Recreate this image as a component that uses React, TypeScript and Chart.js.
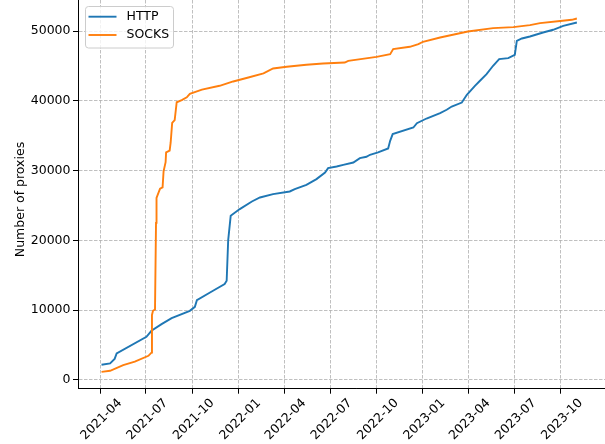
import React, { useEffect, useRef } from 'react';
import { Chart, registerables } from 'chart.js';
Chart.register(...registerables);

const seriesLabels = ['HTTP', 'SOCKS'];
const seriesColors = ['#1f77b4', '#ff7f0e'];
const yAxisTitle = 'Number of proxies';

const httpDates = [
  '2021-04-04', '2021-04-21', '2021-04-30', '2021-05-04', '2021-07-02', '2021-07-12', '2021-08-01',
  '2021-08-21', '2021-09-26', '2021-10-06', '2021-10-10', '2021-11-11', '2021-12-04', '2021-12-08',
  '2021-12-11', '2021-12-16', '2022-01-03', '2022-01-27', '2022-02-12', '2022-03-10', '2022-04-12',
  '2022-04-22', '2022-05-15', '2022-06-04', '2022-06-21', '2022-06-27', '2022-07-14', '2022-07-27',
  '2022-08-16', '2022-08-29', '2022-09-11', '2022-09-18', '2022-10-04', '2022-10-24', '2022-10-28',
  '2022-11-02', '2022-12-13', '2022-12-20', '2023-01-08', '2023-02-04', '2023-02-17', '2023-02-27',
  '2023-03-19', '2023-03-29', '2023-04-14', '2023-04-24', '2023-05-07', '2023-05-20', '2023-06-01',
  '2023-06-19', '2023-07-02', '2023-07-06', '2023-07-16', '2023-08-01', '2023-08-27', '2023-09-16',
  '2023-10-06', '2023-11-02',
];
const httpValues = [
  2160, 2350, 3000, 3780, 6170, 7030, 7990,
  8850, 9900, 10470, 11430, 12770, 13730, 14200,
  20000, 23520, 24480, 25570, 26150, 26630, 27010,
  27350, 27960, 28780, 29730, 30360, 30590, 30830,
  31160, 31790, 31980, 32270, 32600, 33170, 34270,
  35230, 36180, 36800, 37470, 38240, 38720, 39190,
  39760, 40870, 42160, 42880, 43840, 45030, 45990,
  46130, 46600, 48610, 48940, 49230, 49800, 50190,
  50760, 51230,
];

const socksDates = [
  '2021-04-04', '2021-04-21', '2021-05-17', '2021-06-09', '2021-07-06', '2021-07-12', '2021-07-13',
  '2021-07-15', '2021-07-19', '2021-07-21', '2021-07-22', '2021-07-29', '2021-08-03', '2021-08-05',
  '2021-08-09', '2021-08-10', '2021-08-17', '2021-08-19', '2021-08-22', '2021-08-27', '2021-08-31',
  '2021-09-10', '2021-09-20', '2021-09-26', '2021-10-20', '2021-11-24', '2021-12-21', '2022-01-20',
  '2022-02-19', '2022-03-10', '2022-04-06', '2022-05-15', '2022-06-17', '2022-07-30', '2022-08-06',
  '2022-10-01', '2022-10-28', '2022-11-03', '2022-12-06', '2022-12-23', '2023-01-01', '2023-02-04',
  '2023-03-31', '2023-05-20', '2023-06-29', '2023-08-01', '2023-08-21', '2023-09-30', '2023-10-23',
  '2023-11-02',
];
const socksValues = [
  1150, 1300, 2100, 2600, 3450, 3900, 9300,
  9900, 10100, 22500, 26100, 27400, 27600, 29900,
  31200, 32600, 32850, 34000, 36850, 37250, 39800,
  40100, 40500, 41000, 41600, 42160, 42780, 43350,
  43930, 44640, 44880, 45170, 45350, 45500, 45740,
  46310, 46700, 47420, 47750, 48130, 48470, 49080,
  49940, 50430, 50570, 50860, 51150, 51440, 51620,
  51810,
];

const xTickDates = [
  '2021-04-01', '2021-07-01', '2021-10-01', '2022-01-01', '2022-04-01', '2022-07-01',
  '2022-10-01', '2023-01-01', '2023-04-01', '2023-07-01', '2023-10-01',
];
const xTickLabels = [
  '2021-04', '2021-07', '2021-10', '2022-01', '2022-04', '2022-07',
  '2022-10', '2023-01', '2023-04', '2023-07', '2023-10',
];
const yTickValues = [0, 10000, 20000, 30000, 40000, 50000];

const ORIGIN = Date.UTC(2021, 3, 1);
const toDay = (s: string) => {
  const [y, m, d] = s.split('-').map(Number);
  return (Date.UTC(y, m - 1, d) - ORIGIN) / 86400000;
};

const W = 645;
const H = 474;
const OFF_Y = 30;
const FONT = '"DejaVu Sans", sans-serif';
const FS = 12.5;

const decorPlugin = {
  id: 'mplDecor',
  afterDraw(chart: any) {
    const ctx = chart.ctx;
    ctx.save();
    // y axis title
    ctx.translate(21, 199.5 + OFF_Y);
    ctx.rotate(-Math.PI / 2);
    ctx.font = `${FS}px ${FONT}`;
    ctx.fillStyle = '#000';
    ctx.textAlign = 'center';
    ctx.textBaseline = 'middle';
    ctx.fillText(yAxisTitle, 0, 0);
    ctx.restore();

    // legend
    ctx.save();
    const bx = 85.5, by = 6.5 + OFF_Y, bw = 88, bh = 41.5;
    ctx.beginPath();
    ctx.roundRect(bx, by, bw, bh, 3);
    ctx.fillStyle = 'rgba(255,255,255,0.8)';
    ctx.fill();
    ctx.strokeStyle = '#cccccc';
    ctx.lineWidth = 1;
    ctx.stroke();
    const rows = [16.7, 35];
    chart.data.datasets.forEach((ds: any, i: number) => {
      const y = rows[i] + OFF_Y;
      ctx.beginPath();
      ctx.moveTo(88.5, y);
      ctx.lineTo(116.5, y);
      ctx.strokeStyle = ds.borderColor;
      ctx.lineWidth = 1.9;
      ctx.stroke();
      ctx.font = `${FS}px ${FONT}`;
      ctx.fillStyle = '#000';
      ctx.textAlign = 'left';
      ctx.textBaseline = 'middle';
      ctx.fillText(ds.label, 126.5, y);
    });
    ctx.restore();
  },
};

export default function App() {
  const ref = useRef<HTMLCanvasElement | null>(null);
  useEffect(() => {
    if (!ref.current) return;
    const chart = new Chart(ref.current, {
      type: 'line',
      data: {
        datasets: [
          {
            label: seriesLabels[0],
            data: httpDates.map((d, i) => ({ x: toDay(d), y: httpValues[i] })),
            borderColor: seriesColors[0],
            backgroundColor: seriesColors[0],
            borderWidth: 1.9,
            pointRadius: 0,
            tension: 0,
            fill: false,
            order: 1,
          },
          {
            label: seriesLabels[1],
            data: socksDates.map((d, i) => ({ x: toDay(d), y: socksValues[i] })),
            borderColor: seriesColors[1],
            backgroundColor: seriesColors[1],
            borderWidth: 1.9,
            pointRadius: 0,
            tension: 0,
            fill: false,
            order: 0,
          },
        ],
      },
      options: {
        responsive: false,
        animation: false,
        devicePixelRatio: 1,
        layout: { padding: { top: 20, right: 10, left: 0, bottom: 0 } },
        plugins: { legend: { display: false }, tooltip: { enabled: false } },
        scales: {
          x: {
            type: 'linear',
            min: -43.6,
            max: 1060.2,
            afterBuildTicks: (s: any) => {
              s.ticks = xTickDates.map((d) => ({ value: toDay(d) }));
            },
            afterFit: (s: any) => {
              s.height = 55.3;
            },
            ticks: {
              autoSkip: false,
              minRotation: 45,
              maxRotation: 45,
              padding: 2,
              labelOffset: 20,
              color: '#000',
              font: { family: FONT, size: FS },
              callback: (_v: any, i: number) => xTickLabels[i],
            },
            grid: { color: '#b0b0b0', lineWidth: 0.8, tickLength: 5, tickColor: '#000', tickWidth: 1 },
            border: { color: '#000', width: 1, dash: [3.5, 1.5] },
          },
          y: {
            type: 'linear',
            min: -1268,
            max: 55893,
            afterBuildTicks: (s: any) => {
              s.ticks = yTickValues.map((v) => ({ value: v }));
            },
            afterFit: (s: any) => {
              s.width = 78;
            },
            ticks: {
              padding: 2.5,
              color: '#000',
              font: { family: FONT, size: FS },
              callback: (v: any) => String(v),
            },
            grid: { color: '#b0b0b0', lineWidth: 0.8, tickLength: 5, tickColor: '#000', tickWidth: 1 },
            border: { color: '#000', width: 1, dash: [3.5, 1.5] },
          },
        },
      },
      plugins: [decorPlugin],
    } as any);
    return () => chart.destroy();
  }, []);
  return (
    <div
      style={{
        position: 'fixed',
        left: 0,
        top: 0,
        width: 605,
        height: 444,
        overflow: 'hidden',
        background: '#fff',
      }}
    >
      <canvas ref={ref} width={W} height={H} style={{ position: 'absolute', left: 0, top: -OFF_Y, width: W, height: H }} />
    </div>
  );
}
